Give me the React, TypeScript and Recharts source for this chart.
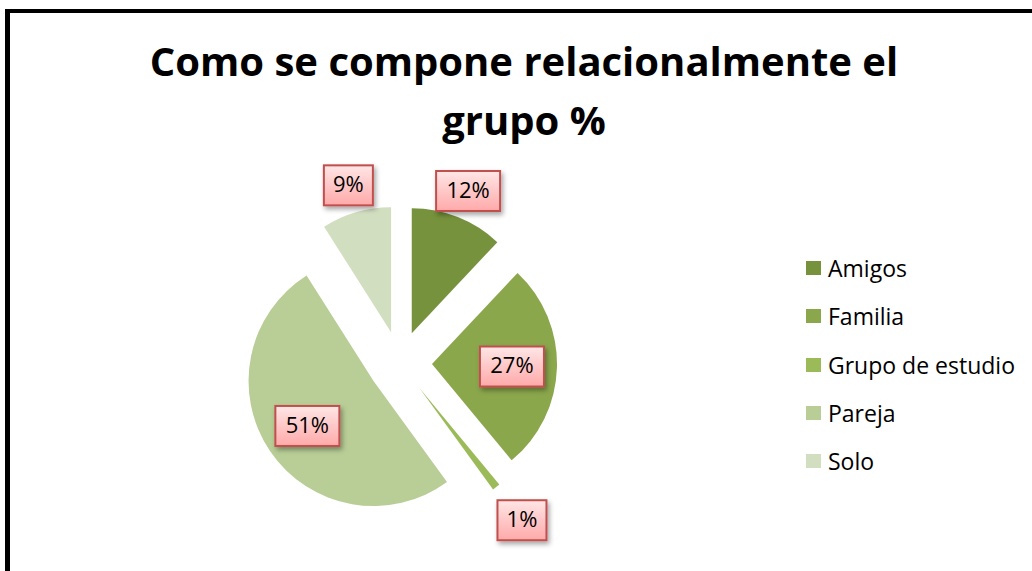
import { Cell, Legend, Pie, PieChart } from 'recharts';

const categories = ['Amigos', 'Familia', 'Grupo de estudio', 'Pareja', 'Solo'];
const shares = [12, 27, 1, 51, 9];
const colors = ['#76923C', '#8BA74C', '#9BBB59', '#B8CE96', '#D1DEBF'];

const titleLines = ['Como se compone relacionalmente el', 'grupo %'];

const data = categories.map((name, i) => ({ name, value: shares[i] }));

const W = 1032;
const H = 571;
const CX = 400;
const CY = 363;
const R = 125;
const EXPLODE = 32;
const RAD = Math.PI / 180;
const FONT = '"Open Sans", sans-serif';

// recharts angles: start at 12 o'clock, go clockwise
const total = shares.reduce((a, b) => a + b, 0);
const midAngles = shares.map((v, i) => {
  const before = shares.slice(0, i).reduce((a, b) => a + b, 0);
  const start = 90 - (360 * before) / total;
  const end = 90 - (360 * (before + v)) / total;
  return (start + end) / 2;
});

function LabelBox(props: any) {
  const { cx, cy, midAngle, outerRadius, percent } = props;
  let r = outerRadius * 0.64;
  if (percent < 0.05) r = outerRadius + 42;
  else if (percent < 0.2) r = outerRadius + 28;
  const x = cx + r * Math.cos(-midAngle * RAD);
  const y = cy + r * Math.sin(-midAngle * RAD);
  const text = `${Math.round(percent * 100)}%`;
  const w = text.length * 15 + 19;
  const h = 40;
  return (
    <g>
      <rect
        x={x - w / 2}
        y={y - h / 2}
        width={w}
        height={h}
        fill="url(#lblFill)"
        stroke="#C0504D"
        strokeWidth={2}
        filter="url(#lblShadow)"
      />
      <text
        x={x}
        y={y + 1}
        textAnchor="middle"
        dominantBaseline="middle"
        fontFamily={FONT}
        fontSize={22}
        fill="#000"
      >
        {text}
      </text>
    </g>
  );
}

function LegendList() {
  return (
    <div style={{ fontFamily: FONT, fontSize: 23, color: '#000' }}>
      {categories.map((c, i) => (
        <div key={c} style={{ display: 'flex', alignItems: 'center', height: 48.3 }}>
          <span style={{ width: 15, height: 14, background: colors[i], marginRight: 7 }} />
          <span>{c}</span>
        </div>
      ))}
    </div>
  );
}

export default function App() {
  return (
    <div
      style={{
        position: 'absolute',
        left: 0,
        top: 0,
        width: W,
        height: H,
        overflow: 'hidden',
        background: '#fff',
      }}
    >
      <div
        style={{
          position: 'absolute',
          left: 5,
          top: 9,
          width: 1200,
          height: 800,
          borderLeft: '5px solid #000',
          borderTop: '4px solid #000',
        }}
      />
      <PieChart
        width={W}
        height={H}
        margin={{ top: 0, right: 0, bottom: 0, left: 0 }}
        style={{ position: 'absolute', left: 0, top: 0 }}
      >
        <defs>
          <linearGradient id="lblFill" x1="0" y1="0" x2="0" y2="1">
            <stop offset="0%" stopColor="#FFE6E6" />
            <stop offset="100%" stopColor="#FFA9A9" />
          </linearGradient>
          <filter id="lblShadow" x="-30%" y="-30%" width="170%" height="180%">
            <feDropShadow dx="2" dy="3" stdDeviation="2.5" floodColor="#000" floodOpacity="0.35" />
          </filter>
        </defs>
        <text
          x={524}
          y={76}
          textAnchor="middle"
          fontFamily={FONT}
          fontWeight={700}
          fontSize={40}
          fill="#000"
        >
          {titleLines[0]}
        </text>
        <text
          x={524}
          y={135}
          textAnchor="middle"
          fontFamily={FONT}
          fontWeight={700}
          fontSize={40}
          fill="#000"
        >
          {titleLines[1]}
        </text>
        {categories.map((c, k) => (
          <Pie
            key={c}
            data={data}
            dataKey="value"
            nameKey="name"
            cx={CX + EXPLODE * Math.cos(midAngles[k] * RAD)}
            cy={CY - EXPLODE * Math.sin(midAngles[k] * RAD)}
            outerRadius={R}
            startAngle={90}
            endAngle={-270}
            stroke="none"
            labelLine={false}
            label={(p: any) => (p.index === k ? <LabelBox {...p} /> : null)}
            isAnimationActive={false}
            legendType="none"
          >
            {data.map((d, i) => (
              <Cell key={d.name} fill={i === k ? colors[i] : 'none'} stroke="none" />
            ))}
          </Pie>
        ))}
        <Legend
          layout="vertical"
          content={() => <LegendList />}
          wrapperStyle={{ left: 806, top: 244, width: 230 }}
        />
      </PieChart>
    </div>
  );
}
